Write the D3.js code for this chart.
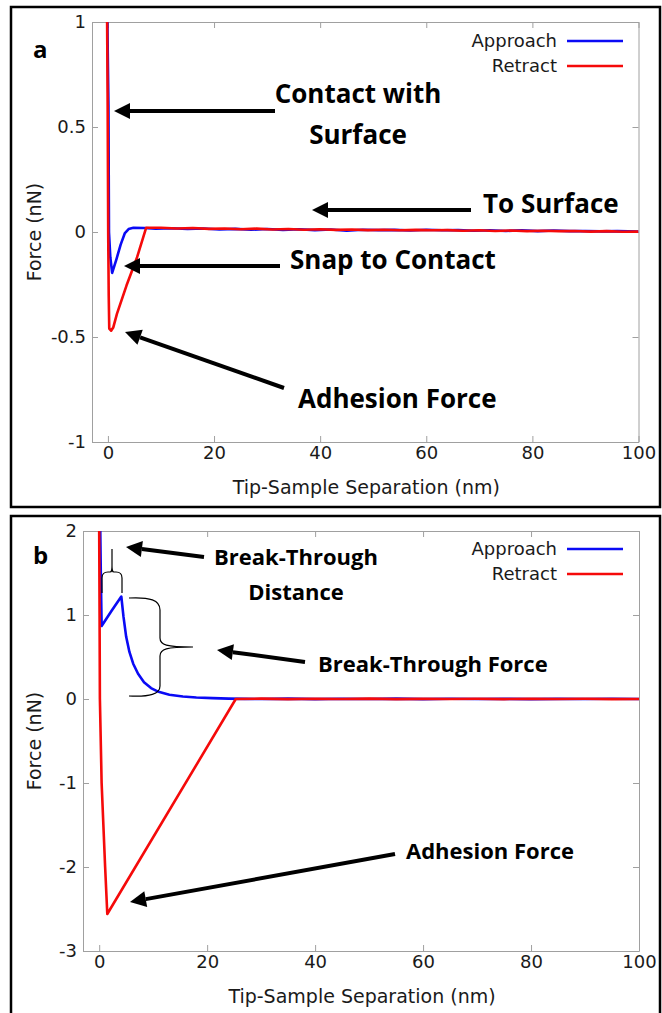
<!DOCTYPE html>
<html>
<head>
<meta charset="utf-8">
<script src="https://cdn.jsdelivr.net/npm/d3@7"></script>
<style>
  body { margin: 0; background: #fff; }
  .tick text { font-family: "DejaVu Sans", sans-serif; font-size: 18px; fill: #1a1a1a; }
  .note { font-family: "Open Sans", sans-serif; font-weight: 700; fill: #000; }
</style>
</head>
<body>
<script>
// panel a : force curves (x in nm, F in nN)
const approachA = [[-0.1,1.0],[0.1,0.6],[0.2,0.0],[0.45,-0.12],[0.8,-0.195],[1.6,-0.13],[2.4,-0.06],[3.2,-0.005],[3.9,0.014],[4.8,0.02],[6.8,0.019],
  [9,0.016],[12,0.018],[15,0.014],[18,0.017],[21,0.012],[24,0.015],[27,0.011],[30,0.014],[33,0.010],[36,0.013],[39,0.009],[42,0.012],
  [45,0.006],[48,0.011],[51,0.009],[54,0.010],[57,0.007],[60,0.011],[63,0.008],[66,0.009],[69,0.006],[72,0.008],[75,0.005],[78,0.008],
  [81,0.004],[84,0.007],[87,0.004],[90,0.005],[93,0.003],[96,0.004],[100,0.002]];
const retractA = [[-0.15,1.0],[-0.05,0.6],[0.05,0.0],[0.15,-0.3],[0.25,-0.46],[0.6,-0.47],[1.0,-0.455],[1.7,-0.39],[3.5,-0.255],[5.5,-0.12],[7.2,0.02],
  [10,0.02],[13,0.017],[16,0.019],[19,0.015],[22,0.017],[25,0.013],[28,0.016],[31,0.012],[34,0.014],[37,0.011],[40,0.013],[43,0.010],
  [46,0.012],[49,0.009],[52,0.011],[55,0.008],[58,0.010],[61,0.008],[64,0.009],[67,0.006],[70,0.008],[73,0.005],[76,0.007],[79,0.004],
  [82,0.006],[85,0.004],[88,0.005],[91,0.002],[94,0.004],[97,0.001],[100,0.002]];

// panel b
const approachB = [[0.2,2.0],[0.3,1.5],[0.45,0.87],[2.3,1.05],[4.1,1.22],[4.5,0.98],[5.0,0.74],[5.6,0.56],[6.3,0.42],[7.2,0.3],[8.3,0.2],
  [9.6,0.13],[11,0.085],[13,0.05],[15.5,0.03],[18,0.018],[21,0.01],[24,0.005],[27,0.002],[30,0.0],[35,0.004],[40,-0.002],[45,0.003],
  [50,0.0],[55,0.004],[60,-0.001],[65,0.003],[70,0.0],[75,0.002],[80,-0.002],[85,0.002],[90,0.0],[95,0.003],[100,0.0]];
const retractB = [[0,2.0],[0.07,1.0],[0.13,0.0],[0.45,-1.0],[1.1,-2.0],[1.5,-2.56],[25.3,0.0],[30,0.004],[35,-0.002],[40,0.003],
  [45,0.0],[50,0.004],[55,-0.002],[60,0.002],[65,0.0],[70,0.003],[75,-0.001],[80,0.002],[85,0.0],[90,0.003],[95,-0.001],[100,0.0]];

const xTicks = [0, 20, 40, 60, 80, 100];
const yTicksA = [-1, -0.5, 0, 0.5, 1];
const yTicksB = [-3, -2, -1, 0, 1, 2];
const seriesNames = ["Approach", "Retract"];
const seriesColors = ["#0a0af5", "#f50a0a"];

const svg = d3.select("body").append("svg")
  .attr("width", 662)
  .attr("height", 1013);

function arrow(g, x1, y1, x2, y2) {
  const a = Math.atan2(y2 - y1, x2 - x1);
  const L = 16, W = 8;
  const bx = x2 - L * Math.cos(a), by = y2 - L * Math.sin(a);
  g.append("line")
    .attr("x1", x1).attr("y1", y1).attr("x2", bx).attr("y2", by)
    .attr("stroke", "#000").attr("stroke-width", 4);
  g.append("path")
    .attr("d", `M${x2},${y2}L${bx - W * Math.sin(a)},${by + W * Math.cos(a)}L${bx + W * Math.sin(a)},${by - W * Math.cos(a)}Z`)
    .attr("fill", "#000");
}

function drawPanel(p) {
  const g = svg.append("g");

  g.append("rect")
    .attr("x", p.box[0]).attr("y", p.box[1])
    .attr("width", p.box[2]).attr("height", p.box[3])
    .attr("fill", "none").attr("stroke", "#000").attr("stroke-width", 2.5);

  const x = d3.scaleLinear().domain([-3, 100]).range([p.left, p.right]);
  const y = d3.scaleLinear().domain(p.yDomain).range([p.bottom, p.top]);

  const ax = g.append("g").attr("transform", `translate(0,${p.bottom})`)
    .call(d3.axisBottom(x).tickValues(xTicks).tickSize(-6).tickSizeOuter(0).tickPadding(4).tickFormat(d => String(d)));
  const axT = g.append("g").attr("transform", `translate(0,${p.top})`)
    .call(d3.axisTop(x).tickValues(xTicks).tickSize(-6).tickSizeOuter(0).tickFormat(""));
  const ay = g.append("g").attr("transform", `translate(${p.left},0)`)
    .call(d3.axisLeft(y).tickValues(p.yTicks).tickSize(-6).tickSizeOuter(0).tickPadding(6).tickFormat(d => String(d)));
  const ayR = g.append("g").attr("transform", `translate(${p.right},0)`)
    .call(d3.axisRight(y).tickValues(p.yTicks).tickSize(-6).tickSizeOuter(0).tickFormat(""));
  [ax, axT, ay, ayR].forEach(a => {
    a.selectAll("path, line").attr("stroke", "#a0a0a0");
    a.selectAll("text").attr("font-family", null).attr("font-size", null);
  });

  const clipId = "clip" + p.name;
  g.append("clipPath").attr("id", clipId).append("rect")
    .attr("x", p.left).attr("y", p.top - 1)
    .attr("width", p.right - p.left).attr("height", p.bottom - p.top + 2);

  const line = d3.line().x(d => x(d[0])).y(d => y(d[1]));
  p.series.forEach((s, i) => {
    g.append("path")
      .datum(s)
      .attr("clip-path", `url(#${clipId})`)
      .attr("d", line)
      .attr("fill", "none")
      .attr("stroke", seriesColors[i])
      .attr("stroke-width", 2.6)
      .attr("stroke-linejoin", "round");
  });

  // legend
  seriesNames.forEach((n, i) => {
    const ly = p.legendY + i * 25;
    g.append("text")
      .attr("x", 557).attr("y", ly + 6)
      .attr("text-anchor", "end")
      .attr("font-family", "DejaVu Sans, sans-serif")
      .attr("font-size", 18)
      .attr("fill", "#1a1a1a")
      .text(n);
    g.append("line")
      .attr("x1", 567).attr("x2", 623).attr("y1", ly).attr("y2", ly)
      .attr("stroke", seriesColors[i]).attr("stroke-width", 2.6);
  });

  g.append("text")
    .attr("x", (p.left + p.right) / 2 + 1).attr("y", p.bottom + 52)
    .attr("text-anchor", "middle")
    .attr("font-family", "DejaVu Sans, sans-serif")
    .attr("font-size", 19)
    .attr("fill", "#1a1a1a")
    .text("Tip-Sample Separation (nm)");

  g.append("text")
    .attr("transform", `translate(41,${(p.top + p.bottom) / 2}) rotate(-90)`)
    .attr("text-anchor", "middle")
    .attr("font-family", "DejaVu Sans, sans-serif")
    .attr("font-size", 19)
    .attr("fill", "#1a1a1a")
    .text("Force (nN)");

  g.append("text")
    .attr("class", "note")
    .attr("x", p.label[0]).attr("y", p.label[1])
    .attr("font-size", 24)
    .text(p.name);

  return g;
}

const ga = drawPanel({
  name: "a", box: [11, 7, 649, 500],
  left: 92, right: 638.5, top: 22, bottom: 442,
  yDomain: [-1, 1], yTicks: yTicksA,
  series: [approachA, retractA], legendY: 41, label: [33, 58]
});

const gb = drawPanel({
  name: "b", box: [11, 516, 649, 520],
  left: 83, right: 639, top: 531, bottom: 951,
  yDomain: [-3, 2], yTicks: yTicksB,
  series: [approachB, retractB], legendY: 549, label: [33, 564]
});

// annotations
function note(g, txt, x, yb, size, anchor) {
  g.append("text").attr("class", "note")
    .attr("x", x).attr("y", yb)
    .attr("font-size", size)
    .attr("text-anchor", anchor || "start")
    .text(txt);
}
note(ga, "Contact with", 358, 103, 26, "middle");
note(ga, "Surface", 358, 144, 26, "middle");
arrow(ga, 275, 111, 114, 111);
note(ga, "To Surface", 483, 213, 26);
arrow(ga, 471, 210, 312, 210);
note(ga, "Snap to Contact", 290, 269, 26);
arrow(ga, 280, 266, 124, 266);
note(ga, "Adhesion Force", 298, 408, 26);
arrow(ga, 284, 388, 125, 332);

note(gb, "Break-Through", 296, 565, 22, "middle");
note(gb, "Distance", 296, 600, 22, "middle");
arrow(gb, 204, 557, 126, 547);
note(gb, "Break-Through Force", 318, 672, 22);
arrow(gb, 305, 662, 217, 650);
note(gb, "Adhesion Force", 406, 859, 22);
arrow(gb, 395, 854, 130, 902);

// braces
gb.append("path")
  .attr("d", "M102,593L102,578C102,574 104,572 108,572L110,572C112,572 112,570 112,566L112,549" +
             "M112,566C112,570 112,572 114,572L116,572C120,572 122,574 122,578L122,593")
  .attr("fill", "none").attr("stroke", "#000").attr("stroke-width", 1.2);
gb.append("path")
  .attr("d", "M129,598C150,597 160,600 160,610L160,638C160,645 166,647 193,647" +
             "M193,647C166,647 160,649 160,656L160,686C160,694 150,697 129,696")
  .attr("fill", "none").attr("stroke", "#000").attr("stroke-width", 1.2);
</script>
</body>
</html>
